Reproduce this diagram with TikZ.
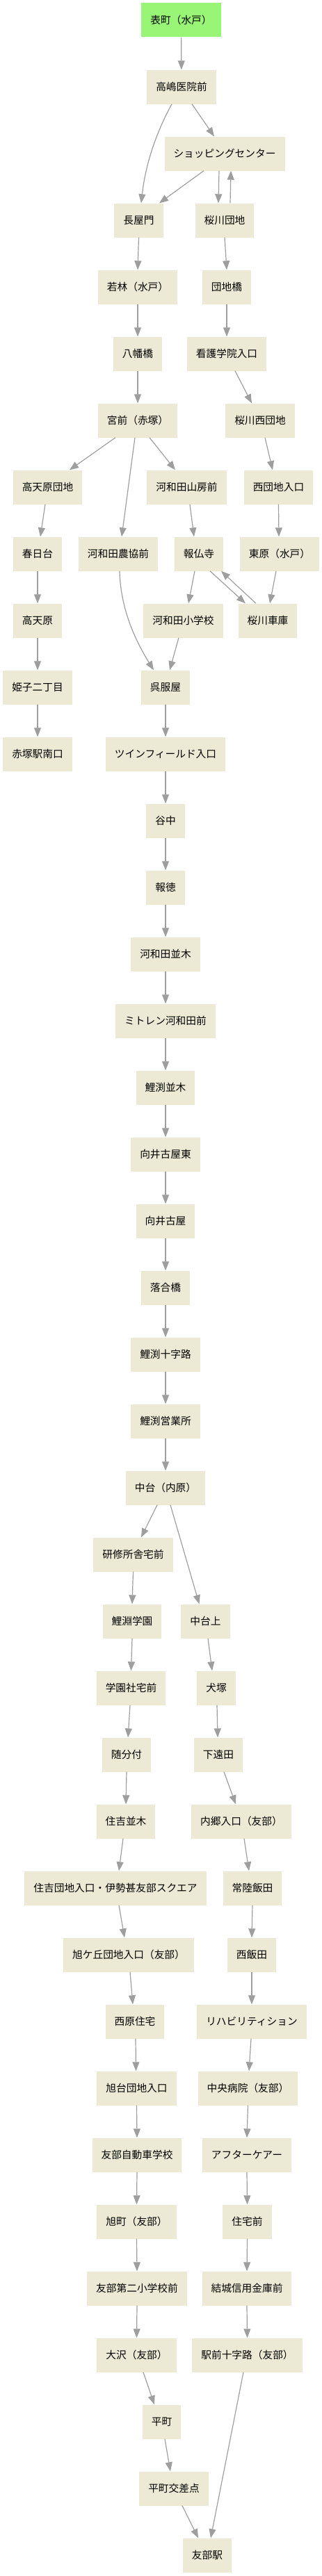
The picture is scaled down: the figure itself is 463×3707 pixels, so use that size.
\documentclass[tikz,border=0pt]{standalone}
\usepackage{fontspec}
\usetikzlibrary{arrows.meta}
\newfontfamily\jpfam{Noto Sans CJK JP}
\definecolor{stopfill}{RGB}{236,234,213}
\definecolor{startfill}{RGB}{152,245,118}
\definecolor{edgegray}{RGB}{158,158,158}
\tikzset{
  busstop/.style={fill=stopfill, draw=none, minimum height=49pt, inner xsep=13pt, inner ysep=0pt,
    font={\jpfam\fontsize{14.7pt}{17pt}\selectfont}, text=black},
  startstop/.style={busstop, fill=startfill},
  conn/.style={draw=edgegray, line width=1.2pt, -{Triangle[length=13pt,width=10pt,fill=edgegray]}}
}
\begin{document}
\begin{tikzpicture}[x=1pt,y=1pt]
\useasboundingbox (0,0) rectangle (463,-3707);
% nodes
\node[startstop] (omote) at (260.5,-29) {表町（水戸）};
\node[busstop] (takashima) at (261,-125) {高嶋医院前};
\node[busstop] (shop) at (323,-221) {ショッピングセンター};
\node[busstop] (nagaya) at (199.5,-317) {長屋門};
\node[busstop] (sakuradanchi) at (323,-317) {桜川団地};
\node[busstop] (wakabayashi) at (198,-413) {若林（水戸）};
\node[busstop] (danchibashi) at (326,-413) {団地橋};
\node[busstop] (yawata) at (198,-509) {八幡橋};
\node[busstop] (kango) at (326,-509) {看護学院入口};
\node[busstop] (miyamae) at (198,-605) {宮前（赤塚）};
\node[busstop] (sakuranishi) at (374,-605) {桜川西団地};
\node[busstop] (takamadanchi) at (68.5,-701) {高天原団地};
\node[busstop] (sanbo) at (268.5,-701) {河和田山房前};
\node[busstop] (nishidanchi) at (400.5,-701) {西団地入口};
\node[busstop] (kasuga) at (54,-797) {春日台};
\node[busstop] (nokyo) at (170,-797) {河和田農協前};
\node[busstop] (hobutsu) at (286,-797) {報仏寺};
\node[busstop] (higashihara) at (402,-797) {東原（水戸）};
\node[busstop] (takama) at (54,-893) {高天原};
\node[busstop] (shogakko) at (263.5,-893) {河和田小学校};
\node[busstop] (shako) at (385,-893) {桜川車庫};
\node[busstop] (himeko) at (54,-989) {姫子二丁目};
\node[busstop] (gofuku) at (238,-989) {呉服屋};
\node[busstop] (akatsuka) at (54,-1085) {赤塚駅南口};
\node[busstop] (twin) at (238,-1085) {ツインフィールド入口};
\node[busstop] (yanaka) at (238,-1181) {谷中};
\node[busstop] (hotoku) at (238,-1277) {報徳};
\node[busstop] (namiki) at (238,-1373) {河和田並木};
\node[busstop] (mitoren) at (238,-1469) {ミトレン河和田前};
\node[busstop] (koinami) at (238,-1565) {鯉渕並木};
\node[busstop] (mukaihigashi) at (238,-1661) {向井古屋東};
\node[busstop] (mukai) at (238,-1757) {向井古屋};
\node[busstop] (ochiai) at (238,-1853) {落合橋};
\node[busstop] (koijuji) at (238,-1949) {鯉渕十字路};
\node[busstop] (koieigyo) at (238,-2045) {鯉渕営業所};
\node[busstop] (nakadai) at (238,-2141) {中台（内原）};
\node[busstop] (kenshu) at (191.5,-2237) {研修所舎宅前};
\node[busstop] (gakuen) at (190,-2333) {鯉淵学園};
\node[busstop] (nakadaiue) at (295.5,-2333) {中台上};
\node[busstop] (shataku) at (188.5,-2429) {学園社宅前};
\node[busstop] (inuzuka) at (311,-2429) {犬塚};
\node[busstop] (zuibun) at (182,-2525) {随分付};
\node[busstop] (shimotoda) at (314,-2525) {下遠田};
\node[busstop] (sumiyoshi) at (181,-2621) {住吉並木};
\node[busstop] (uchigo) at (347,-2621) {内郷入口（友部）};
\node[busstop] (sumidan) at (166,-2717) {住吉団地入口・伊勢甚友部スクエア};
\node[busstop] (hitachiiida) at (363,-2717) {常陸飯田};
\node[busstop] (asahigaoka) at (185,-2813) {旭ケ丘団地入口（友部）};
\node[busstop] (nishiiida) at (362,-2813) {西飯田};
\node[busstop] (nishihara) at (194,-2909) {西原住宅};
\node[busstop] (riha) at (362,-2909) {リハビリティション};
\node[busstop] (asahidai) at (196.5,-3005) {旭台団地入口};
\node[busstop] (chuo) at (356.5,-3005) {中央病院（友部）};
\node[busstop] (jidosha) at (197,-3101) {友部自動車学校};
\node[busstop] (after) at (355,-3101) {アフターケアー};
\node[busstop] (asahimachi) at (196.5,-3197) {旭町（友部）};
\node[busstop] (jutaku) at (355.5,-3197) {住宅前};
\node[busstop] (daini) at (197,-3293) {友部第二小学校前};
\node[busstop] (yuki) at (355,-3293) {結城信用金庫前};
\node[busstop] (osawa) at (196.5,-3389) {大沢（友部）};
\node[busstop] (ekimae) at (355.5,-3389) {駅前十字路（友部）};
\node[busstop] (hiramachi) at (232.5,-3485) {平町};
\node[busstop] (hiraxing) at (250,-3581) {平町交差点};
\node[busstop] (tomobe) at (298,-3677) {友部駅};
% edges
\draw[conn] (omote) -- (takashima);
\draw[conn] ([xshift=-14pt]takashima.south) .. controls ([xshift=-33pt,yshift=-35pt]takashima.south) and ([xshift=10.5pt,yshift=62.5pt]nagaya.north) .. ([xshift=3.5pt]nagaya.north);
\draw[conn] ([xshift=15pt]takashima.south) -- ([xshift=-15pt]shop.north);
\draw[conn] ([xshift=-30pt]shop.south) -- ([xshift=29.5pt]nagaya.north);
\draw[conn] ([xshift=-8pt]shop.south) -- ([xshift=-9pt]sakuradanchi.north);
\draw[conn] ([xshift=8pt]sakuradanchi.north) -- ([xshift=9pt]shop.south);
\draw[conn] (nagaya.south) -- (wakabayashi.north);
\draw[conn] (sakuradanchi.south) -- (danchibashi.north);
\draw[conn] (wakabayashi) -- (yawata);
\draw[conn] (danchibashi) -- (kango);
\draw[conn] (yawata) -- (miyamae);
\draw[conn] ([xshift=12pt]kango.south) -- ([xshift=-12pt]sakuranishi.north);
\draw[conn] ([xshift=-32pt]miyamae.south) -- ([xshift=31.5pt]takamadanchi.north);
\draw[conn] ([xshift=-4pt]miyamae.south) -- ([xshift=5pt]nokyo.north);
\draw[conn] ([xshift=17pt]miyamae.south) -- ([xshift=-16.5pt]sanbo.north);
\draw[conn] ([xshift=7pt]sakuranishi.south) -- ([xshift=-8.5pt]nishidanchi.north);
\draw[conn] ([xshift=-3.5pt]takamadanchi.south) -- ([xshift=4pt]kasuga.north);
\draw[conn] ([xshift=4.5pt]sanbo.south) -- ([xshift=-7pt]hobutsu.north);
\draw[conn] (nishidanchi.south) -- ([xshift=-1pt]higashihara.north);
\draw[conn] (kasuga) -- (takama);
\draw[conn] ([xshift=-6pt]hobutsu.south) -- ([xshift=7.5pt]shogakko.north);
\draw[conn] ([xshift=16pt]hobutsu.south) -- ([xshift=-32pt]shako.north);
\draw[conn] ([xshift=-17pt]shako.north) -- ([xshift=32pt]hobutsu.south);
\draw[conn] ([xshift=-5pt]higashihara.south) -- ([xshift=3pt]shako.north);
\draw[conn] (takama) -- (himeko);
\draw[conn] ([xshift=2pt]nokyo.south) .. controls ([xshift=3pt,yshift=-48pt]nokyo.south) and ([xshift=-48pt,yshift=50pt]gofuku.north) .. ([xshift=-17pt]gofuku.north);
\draw[conn] ([xshift=-6.5pt]shogakko.south) -- ([xshift=6pt]gofuku.north);
\draw[conn] (himeko) -- (akatsuka);
\draw[conn] (gofuku) -- (twin);
\draw[conn] (twin) -- (yanaka);
\draw[conn] (yanaka) -- (hotoku);
\draw[conn] (hotoku) -- (namiki);
\draw[conn] (namiki) -- (mitoren);
\draw[conn] (mitoren) -- (koinami);
\draw[conn] (koinami) -- (mukaihigashi);
\draw[conn] (mukaihigashi) -- (mukai);
\draw[conn] (mukai) -- (ochiai);
\draw[conn] (ochiai) -- (koijuji);
\draw[conn] (koijuji) -- (koieigyo);
\draw[conn] (koieigyo) -- (nakadai);
\draw[conn] ([xshift=-12pt]nakadai.south) -- ([xshift=11.5pt]kenshu.north);
\draw[conn] ([xshift=7pt]nakadai.south) -- ([xshift=-9pt]nakadaiue.north);
\draw[conn] (kenshu.south) -- (gakuen.north);
\draw[conn] (gakuen.south) -- (shataku.north);
\draw[conn] ([xshift=-1.5pt]shataku.south) -- ([xshift=2pt]zuibun.north);
\draw[conn] (zuibun.south) -- (sumiyoshi.north);
\draw[conn] ([xshift=-4pt]sumiyoshi.south) -- ([xshift=5pt]sumidan.north);
\draw[conn] ([xshift=5pt]sumidan.south) -- ([xshift=-6pt]asahigaoka.north);
\draw[conn] ([xshift=2pt]asahigaoka.south) -- ([xshift=-3pt]nishihara.north);
\draw[conn] ([xshift=1pt]nishihara.south) -- ([xshift=-1pt]asahidai.north);
\draw[conn] (asahidai.south) -- (jidosha.north);
\draw[conn] (jidosha.south) -- (asahimachi.north);
\draw[conn] (asahimachi.south) -- (daini.north);
\draw[conn] (daini.south) -- (osawa.north);
\draw[conn] ([xshift=9.5pt]osawa.south) -- ([xshift=-10.5pt]hiramachi.north);
\draw[conn] ([xshift=4.5pt]hiramachi.south) -- ([xshift=-5pt]hiraxing.north);
\draw[conn] ([xshift=12pt]hiraxing.south) -- ([xshift=-13pt]tomobe.north);
\draw[conn] ([xshift=3.5pt]nakadaiue.south) -- ([xshift=-6pt]inuzuka.north);
\draw[conn] ([xshift=1pt]inuzuka.south) -- ([xshift=-1pt]shimotoda.north);
\draw[conn] ([xshift=8pt]shimotoda.south) -- ([xshift=-8pt]uchigo.north);
\draw[conn] ([xshift=4pt]uchigo.south) -- ([xshift=-5pt]hitachiiida.north);
\draw[conn] (hitachiiida.south) -- (nishiiida.north);
\draw[conn] (nishiiida.south) -- (riha.north);
\draw[conn] ([xshift=-1pt]riha.south) -- ([xshift=1.5pt]chuo.north);
\draw[conn] (chuo.south) -- (after.north);
\draw[conn] (after.south) -- (jutaku.north);
\draw[conn] (jutaku.south) -- (yuki.north);
\draw[conn] (yuki.south) -- (ekimae.north);
\draw[conn] ([xshift=-5.5pt]ekimae.south) -- ([xshift=5pt]tomobe.north);
\end{tikzpicture}
\end{document}
